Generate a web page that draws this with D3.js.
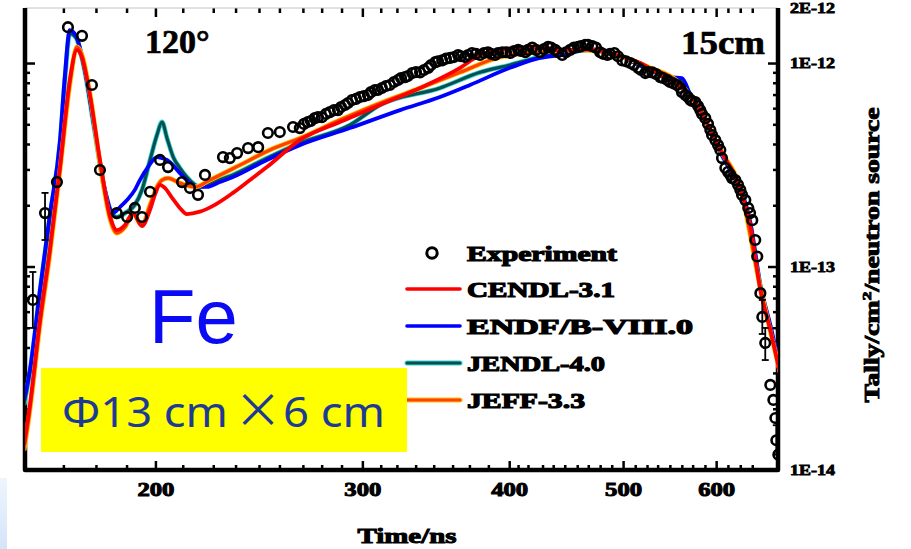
<!DOCTYPE html>
<html>
<head>
<meta charset="utf-8">
<script src="https://cdn.jsdelivr.net/npm/d3@7"></script>
<style>
  body { margin: 0; background: #fff; }
  svg { display: block; }
</style>
</head>
<body>
<svg id="chart" width="911" height="549"></svg>
<script>
// ---- measured time-of-flight spectrum (ns, tally per cm^2 per source neutron) ----
const expTime = [157.3, 161.1, 164.9, 168.5, 173.2, 176.6, 179.4, 185.4, 189.2, 192.1,
  194.8, 197.9, 201.8, 205.0, 210.7, 214.0, 217.4, 220.4, 228.3, 231.4,
  234.7, 239.8, 244.6, 249.3, 255.2, 261.9, 265.4, 269.6, 273.3, 277.1,
  281.5, 286.0, 290.0, 294.0, 298.6, 303.3, 307.5, 311.7, 316.6, 321.7,
  326.2, 330.8, 335.9, 341.3, 346.1, 350.8, 356.3, 361.9, 366.9, 371.9,
  377.8, 383.7, 389.1, 394.6, 401.0, 407.1, 412.8, 418.5, 425.0, 431.7,
  437.7, 443.8, 450.8, 457.9, 464.3, 470.7, 478.1, 484.9, 491.6, 499.2,
  507.1, 515.0, 522.2, 529.4, 537.8, 545.2, 551.6, 559.3, 564.8, 570.4,
  576.0, 581.6, 587.4, 593.2, 599.0, 604.9, 610.9, 616.9, 623.0, 629.1,
  635.3, 639.0, 644.0, 647.8, 650.3, 654.3, 656.8, 660.6, 667.2, 671.2,
  673.8, 675.1, 677.8];
const expTally = [6.85e-14, 1.83e-13, 2.60e-13, 1.50e-12, 1.36e-12, 7.80e-13, 2.98e-13, 1.83e-13, 1.75e-13, 1.94e-13,
  1.75e-13, 2.33e-13, 3.34e-13, 3.08e-13, 2.60e-13, 2.43e-13, 2.25e-13, 2.82e-13, 3.45e-13, 3.41e-13,
  3.61e-13, 3.82e-13, 3.86e-13, 4.53e-13, 4.58e-13, 4.85e-13, 4.79e-13, 5.13e-13, 5.36e-13, 5.42e-13,
  5.74e-13, 5.87e-13, 6.22e-13, 6.58e-13, 6.81e-13, 6.96e-13, 7.37e-13, 7.54e-13, 7.80e-13, 8.25e-13,
  8.53e-13, 8.93e-13, 9.0e-13, 9.47e-13, 1.01e-12, 1.03e-12, 1.06e-12, 1.095e-12, 1.07e-12, 1.12e-12,
  1.095e-12, 1.13e-12, 1.095e-12, 1.13e-12, 1.12e-12, 1.16e-12, 1.13e-12, 1.19e-12, 1.13e-12, 1.20e-12,
  1.16e-12, 1.095e-12, 1.16e-12, 1.20e-12, 1.23e-12, 1.21e-12, 1.13e-12, 1.095e-12, 1.12e-12, 1.03e-12,
  1.00e-12, 9.47e-13, 8.93e-13, 9.0e-13, 8.53e-13, 8.25e-13, 7.95e-13, 7.54e-13, 6.96e-13, 6.58e-13,
  6.43e-13, 5.87e-13, 5.36e-13, 4.69e-13, 4.18e-13, 3.74e-13, 3.05e-13, 2.82e-13, 2.66e-13, 2.38e-13,
  2.12e-13, 1.94e-13, 1.69e-13, 1.35e-13, 1.12e-13, 7.4e-14, 5.65e-14, 4.21e-14, 2.62e-14, 2.21e-14,
  1.80e-14, 1.40e-14, 1.19e-14];

// interleaved bins of the same measurement in the dense late-time region
const expTimeB = [267.6, 271.2, 275.0, 279.3, 283.8, 287.7, 291.7, 296.3, 300.9, 305.1,
  309.3, 314.2, 319.2, 323.6, 328.0, 333.2, 338.5, 343.2, 347.9, 353.4,
  359.0, 363.9, 369.0, 374.8, 380.7, 386.0, 391.3, 397.5, 403.8, 409.3,
  415.0, 421.6, 428.2, 434.1, 440.1, 447.1, 454.1, 460.4, 466.8, 474.1,
  480.7, 487.3, 495.0, 502.9, 510.8, 517.9, 525.0, 533.3, 540.7, 548.1,
  555.7, 561.2, 567.8, 572.3, 579.1, 583.6, 590.5, 595.2, 602.2, 606.9,
  614.1, 618.9, 626.3, 631.2, 641.2];
const expTallyB = [5.02e-13, 5.19e-13, 5.42e-13, 5.62e-13, 5.87e-13, 6.08e-13, 6.36e-13, 6.66e-13, 6.88e-13, 7.19e-13,
  7.37e-13, 7.71e-13, 8.07e-13, 8.44e-13, 8.63e-13, 9.03e-13, 9.24e-13, 9.78e-13, 1.02e-12, 1.05e-12,
  1.07e-12, 1.08e-12, 1.095e-12, 1.11e-12, 1.12e-12, 1.11e-12, 1.12e-12, 1.13e-12, 1.146e-12, 1.146e-12,
  1.16e-12, 1.16e-12, 1.17e-12, 1.19e-12, 1.13e-12, 1.13e-12, 1.19e-12, 1.21e-12, 1.23e-12, 1.19e-12,
  1.11e-12, 1.11e-12, 1.08e-12, 1.02e-12, 9.78e-13, 9.24e-13, 9.03e-13, 8.83e-13, 8.44e-13, 8.07e-13,
  7.80e-13, 7.19e-13, 6.81e-13, 6.51e-13, 6.15e-13, 5.62e-13, 5.02e-13, 4.43e-13, 3.95e-13, 3.41e-13,
  2.92e-13, 2.72e-13, 2.52e-13, 2.25e-13, 1.83e-13];

// error bars on selected measured points
const errTime = [157.3, 161.1, 656.8, 660.6, 675.1, 677.8];
const errLow  = [4.99e-14, 1.35e-13, 4.66e-14, 3.47e-14, 1.19e-14, 1.0e-14];
const errHigh = [9.4e-14, 2.30e-13, 6.85e-14, 4.99e-14, 1.66e-14, 1.33e-14];

// ---- simulated spectra with four evaluated libraries ----
const cendlTime = [154.6, 156.4, 159.5, 162.6, 165.9, 169.1, 171.5, 173.2, 175.9, 179.4,
  182.9, 185.4, 188.4, 191.4, 194.8, 197.9, 199.8, 201.8, 203.8, 206.7,
  209.8, 212.7, 218.2, 224.7, 232.8, 240.7, 248.8, 265.4, 287.1, 310.5,
  335.9, 363.3, 377.8, 393.0, 408.7, 425.0, 442.0, 468.6, 497.2, 517.1,
  537.8, 559.3, 570.4, 581.6, 593.2, 604.9, 616.9, 629.1, 641.5, 654.3,
  667.2, 680.4];
const cendlTally = [1.33e-14, 2.09e-14, 5.46e-14, 1.21e-13, 3.08e-13, 8.25e-13, 1.16e-12, 1.06e-12, 6.96e-13, 3.34e-13,
  1.79e-13, 1.51e-13, 1.60e-13, 1.83e-13, 1.58e-13, 1.90e-13, 2.25e-13, 2.52e-13, 2.43e-13, 2.17e-13,
  1.94e-13, 1.81e-13, 1.86e-13, 2.01e-13, 2.30e-13, 2.66e-13, 3.08e-13, 4.18e-13, 5.13e-13, 6.22e-13,
  7.54e-13, 9.47e-13, 1.095e-12, 1.16e-12, 1.19e-12, 1.19e-12, 1.16e-12, 1.17e-12, 1.08e-12, 1.00e-12,
  8.73e-13, 7.62e-13, 6.96e-13, 5.87e-13, 4.69e-13, 3.74e-13, 3.05e-13, 2.38e-13, 1.60e-13, 7.66e-14,
  4.88e-14, 2.93e-14];

const endfTime = [154.6, 156.4, 159.5, 162.6, 165.9, 167.5, 169.1, 171.2, 174.2, 177.6,
  181.2, 184.0, 186.6, 189.2, 192.1, 194.0, 197.1, 200.6, 202.6, 204.6,
  209.8, 214.0, 217.0, 221.2, 226.9, 232.8, 248.8, 265.4, 292.8, 323.0,
  349.3, 370.4, 400.6, 425.0, 442.0, 468.6, 497.2, 527.3, 548.4, 561.2,
  570.4, 581.6, 593.2, 604.9, 616.9, 629.1, 641.5, 654.3, 667.2, 680.4];
const endfTally = [2.21e-14, 3.10e-14, 7.66e-14, 1.79e-13, 4.18e-13, 8.73e-13, 1.45e-12, 1.36e-12, 9.24e-13, 4.69e-13,
  2.38e-13, 1.83e-13, 1.96e-13, 2.12e-13, 2.38e-13, 2.66e-13, 3.08e-13, 3.45e-13, 3.41e-13, 3.34e-13,
  2.88e-13, 2.57e-13, 2.46e-13, 2.46e-13, 2.60e-13, 2.75e-13, 3.34e-13, 3.95e-13, 4.79e-13, 5.87e-13,
  6.81e-13, 7.80e-13, 9.47e-13, 1.06e-12, 1.095e-12, 1.16e-12, 1.08e-12, 9.24e-13, 8.53e-13, 8.43e-13,
  6.96e-13, 5.74e-13, 4.58e-13, 3.65e-13, 2.98e-13, 2.43e-13, 1.65e-13, 8.11e-14, 5.16e-14, 3.10e-14];

const jendlTime = [154.6, 156.4, 159.5, 162.6, 165.9, 167.5, 169.1, 171.2, 174.2, 177.6,
  181.2, 185.4, 189.2, 192.1, 194.8, 197.9, 200.6, 202.6, 204.6, 207.1,
  209.8, 212.7, 218.2, 222.5, 232.8, 248.8, 265.4, 292.8, 310.5, 349.3,
  377.8, 400.6, 425.0, 442.0, 468.6, 497.2, 527.3, 548.4, 561.2, 570.4,
  581.6, 593.2, 604.9, 616.9, 629.1, 641.5, 654.3, 667.2, 680.4];
const jendlTally = [2.09e-14, 3.03e-14, 7.49e-14, 1.73e-13, 4.04e-13, 8.25e-13, 1.40e-12, 1.33e-12, 9.0e-13, 4.58e-13,
  2.33e-13, 1.75e-13, 1.86e-13, 2.01e-13, 2.38e-13, 3.34e-13, 4.43e-13, 5.13e-13, 4.27e-13, 3.45e-13,
  3.05e-13, 2.75e-13, 2.46e-13, 2.57e-13, 2.82e-13, 3.41e-13, 4.04e-13, 4.96e-13, 6.22e-13, 7.54e-13,
  9.0e-13, 9.78e-13, 1.07e-12, 1.11e-12, 1.16e-12, 1.08e-12, 9.24e-13, 8.43e-13, 8.25e-13, 6.96e-13,
  5.74e-13, 4.58e-13, 3.65e-13, 2.98e-13, 2.38e-13, 1.62e-13, 7.93e-14, 4.99e-14, 3.03e-14];

const jeffTime = [154.6, 156.4, 159.5, 162.6, 165.9, 169.1, 171.5, 173.2, 175.9, 179.4,
  182.9, 185.4, 188.4, 191.4, 194.8, 197.9, 200.6, 202.6, 205.0, 209.8,
  216.1, 222.5, 236.0, 250.3, 265.4, 287.1, 310.5, 335.9, 363.3, 393.0,
  425.0, 459.7, 497.2, 527.3, 559.3, 570.4, 581.6, 604.9, 629.1, 654.3,
  680.4];
const jeffTally = [1.25e-14, 1.97e-14, 5.16e-14, 1.14e-13, 2.98e-13, 7.80e-13, 1.20e-12, 1.095e-12, 7.11e-13, 3.23e-13,
  1.73e-13, 1.46e-13, 1.56e-13, 1.81e-13, 1.60e-13, 2.01e-13, 2.46e-13, 2.66e-13, 2.72e-13, 2.57e-13,
  2.46e-13, 2.66e-13, 3.15e-13, 3.74e-13, 4.27e-13, 5.25e-13, 6.35e-13, 7.54e-13, 9.0e-13, 1.07e-12,
  1.13e-12, 1.16e-12, 1.08e-12, 9.47e-13, 7.89e-13, 6.88e-13, 5.81e-13, 3.74e-13, 2.41e-13, 7.84e-14,
  3.00e-14];

// ---- axis ticks and labels ----
const xMajorTicks = [200, 300, 400, 500, 600];
const xMinorTicks = [167, 178, 189, 211, 224, 234, 245, 255, 267, 277, 288, 311, 321, 333, 345, 358,
  370, 384, 407, 415, 427, 436, 446, 457, 467, 478, 489, 512, 524, 535, 548, 561, 573, 587, 614, 629, 644];
const yMajorTicks = [1e-14, 1e-13, 1e-12, 2e-12];
const yTickLabels = ["1E-14", "1E-13", "1E-12", "2E-12"];

const legendNames = ["Experiment", "CENDL-3.1", "ENDF/B-VIII.0", "JENDL-4.0", "JEFF-3.3"];

// ---- layout ----
const serif = "'Liberation Serif','Times New Roman',serif";
const svg = d3.select("#chart");
const x = d3.scaleLog().domain([154.9, 677.3]).range([25, 778]);
const y = d3.scaleLog().domain([1e-14, 1.864e-12]).range([470, 8]);

svg.append("rect").attr("width", 911).attr("height", 549).attr("fill", "#fff");

// soft blue strip at the lower-left edge
const defs = svg.append("defs");
const grad = defs.append("linearGradient").attr("id", "edgeBlue")
  .attr("x1", 0).attr("y1", 0).attr("x2", 0).attr("y2", 1);
grad.append("stop").attr("offset", "0").attr("stop-color", "#eef5fd");
grad.append("stop").attr("offset", "1").attr("stop-color", "#d4e5f8");
svg.append("rect").attr("x", 0).attr("y", 478).attr("width", 7).attr("height", 71).attr("fill", "url(#edgeBlue)");

defs.append("clipPath").attr("id", "plotClip")
  .append("rect").attr("x", 25).attr("y", 8).attr("width", 753).attr("height", 462);

// ---- axes ----
function styleTicks(g, w) {
  g.select(".domain").remove();
  g.selectAll(".tick line").attr("stroke", "#000").attr("stroke-width", w);
}
const isDecade = v => Math.abs(Math.log10(v) - Math.round(Math.log10(v))) < 1e-6;
const yMinorTicks = y.ticks().filter(v => !isDecade(v));

// bottom
svg.append("g").attr("transform", "translate(0,470)")
  .call(d3.axisBottom(x).tickValues(xMinorTicks).tickSize(-5).tickFormat(""))
  .call(g => styleTicks(g, 2.5));
const gBottom = svg.append("g").attr("transform", "translate(0,470)")
  .call(d3.axisBottom(x).tickValues(xMajorTicks).tickSize(-9).tickPadding(13).tickFormat(d3.format("d")))
  .call(g => styleTicks(g, 2.5));
gBottom.selectAll("text")
  .attr("font-family", serif).attr("font-weight", "bold").attr("font-size", 19)
  .attr("fill", "#000").attr("stroke", "#000").attr("stroke-width", 1)
  .attr("textLength", 37).attr("lengthAdjust", "spacingAndGlyphs");

// top
svg.append("g").attr("transform", "translate(0,8)")
  .call(d3.axisTop(x).tickValues(xMinorTicks).tickSize(-5).tickFormat(""))
  .call(g => styleTicks(g, 2.5));
svg.append("g").attr("transform", "translate(0,8)")
  .call(d3.axisTop(x).tickValues(xMajorTicks).tickSize(-9).tickFormat(""))
  .call(g => styleTicks(g, 2.5));

// left
svg.append("g").attr("transform", "translate(25,0)")
  .call(d3.axisLeft(y).tickValues(yMinorTicks).tickSize(-5).tickFormat(""))
  .call(g => styleTicks(g, 2.5));
svg.append("g").attr("transform", "translate(25,0)")
  .call(d3.axisLeft(y).tickValues(yMajorTicks.filter(v => v <= y.domain()[1])).tickSize(-10).tickFormat(""))
  .call(g => styleTicks(g, 2.5));

// right
svg.append("g").attr("transform", "translate(778,0)")
  .call(d3.axisRight(y).tickValues(yMinorTicks).tickSize(-5).tickFormat(""))
  .call(g => styleTicks(g, 2.5));
const gRight = svg.append("g").attr("transform", "translate(778,0)")
  .call(d3.axisRight(y).tickValues(yMajorTicks).tickSize(-10).tickPadding(12)
    .tickFormat((d, i) => yTickLabels[i]))
  .call(g => styleTicks(g, 2.5));
// the label above the frame sits just inside the top edge
const topTick = gRight.selectAll(".tick").filter(d => d > y.domain()[1]);
topTick.select("line").remove();
topTick.select("text").attr("dy", "0.75em");
gRight.selectAll("text")
  .attr("font-family", serif).attr("font-weight", "bold").attr("font-size", 14)
  .attr("fill", "#000").attr("stroke", "#000").attr("stroke-width", 0.8)
  .attr("textLength", 45).attr("lengthAdjust", "spacingAndGlyphs");

// frame
svg.append("line").attr("x1", 25).attr("x2", 778).attr("y1", 8).attr("y2", 8)
  .attr("stroke", "#c4c4c4").attr("stroke-width", 1);
svg.append("path")
  .attr("d", `M25,8 V470 H778 V8`)
  .attr("fill", "none").attr("stroke", "#000").attr("stroke-width", 4.5).attr("stroke-linejoin", "round");

// ---- simulated curves ----
const line = d3.line().x(d => x(d[0])).y(d => y(d[1])).curve(d3.curveMonotoneX);
const plot = svg.append("g").attr("clip-path", "url(#plotClip)");

const series = [
  { t: jendlTime, v: jendlTally, halo: "#33d6d6", core: "#0a4f4f", w: 3.2 },
  { t: endfTime,  v: endfTally,  halo: null,      core: "#0000ff", w: 3.8 },
  { t: jeffTime,  v: jeffTally,  halo: "#ffc400", core: "#ff4000", w: 3.2 },
  { t: cendlTime, v: cendlTally, halo: null,      core: "#ff0000", w: 3.8 }
];
series.forEach(s => {
  const pts = d3.zip(s.t, s.v);
  if (s.halo) {
    plot.append("path").attr("d", line(pts)).attr("fill", "none")
      .attr("stroke", s.halo).attr("stroke-width", s.w + 1.6).attr("stroke-linejoin", "round");
  }
  plot.append("path").attr("d", line(pts)).attr("fill", "none")
    .attr("stroke", s.core).attr("stroke-width", s.w).attr("stroke-linejoin", "round");
});

// ---- measured points ----
const errG = plot.append("g").attr("stroke", "#000").attr("stroke-width", 1.8);
errTime.forEach((t, i) => {
  const cx = x(t);
  errG.append("line").attr("x1", cx).attr("x2", cx).attr("y1", y(errLow[i])).attr("y2", y(errHigh[i]));
  errG.append("line").attr("x1", cx - 3.5).attr("x2", cx + 3.5).attr("y1", y(errLow[i])).attr("y2", y(errLow[i]));
  errG.append("line").attr("x1", cx - 3.5).attr("x2", cx + 3.5).attr("y1", y(errHigh[i])).attr("y2", y(errHigh[i]));
});
const measured = d3.zip(expTime, expTally).concat(d3.zip(expTimeB, expTallyB));
plot.append("g").selectAll("circle").data(measured).join("circle")
  .attr("cx", d => x(d[0])).attr("cy", d => y(d[1])).attr("r", 4.8)
  .attr("fill", "none").attr("stroke", "#000").attr("stroke-width", 2.6);

// ---- annotations ----
svg.append("text").attr("x", 145).attr("y", 53).text("120°")
  .attr("font-family", serif).attr("font-weight", "bold").attr("font-size", 34)
  .attr("fill", "#000").attr("stroke", "#000").attr("stroke-width", 0.7);
svg.append("text").attr("x", 681).attr("y", 54).text("15cm")
  .attr("font-family", serif).attr("font-weight", "bold").attr("font-size", 34)
  .attr("fill", "#000").attr("stroke", "#000").attr("stroke-width", 0.7)
  .attr("textLength", 84).attr("lengthAdjust", "spacingAndGlyphs");

// ---- legend ----
const legend = svg.append("g");
const legendRowY = [253, 289, 326, 363, 400];
const legendWidths = [150, 148, 226, 138, 118];
legendNames.forEach((name, i) => {
  const ly = legendRowY[i];
  if (i === 0) {
    legend.append("circle").attr("cx", 432).attr("cy", ly).attr("r", 5.2)
      .attr("fill", "none").attr("stroke", "#000").attr("stroke-width", 3);
  } else {
    const s = series[[3, 1, 0, 2][i - 1]];
    if (s.halo) {
      legend.append("line").attr("x1", 407).attr("x2", 460).attr("y1", ly).attr("y2", ly)
        .attr("stroke", s.halo).attr("stroke-width", 5).attr("stroke-linecap", "round");
    }
    legend.append("line").attr("x1", 407).attr("x2", 460).attr("y1", ly).attr("y2", ly)
      .attr("stroke", s.core).attr("stroke-width", s.halo ? 3 : 3.6).attr("stroke-linecap", "round");
  }
  legend.append("text").attr("x", 467).attr("y", ly + 8).text(name)
    .attr("font-family", serif).attr("font-weight", "bold").attr("font-size", 22)
    .attr("fill", "#000").attr("stroke", "#000").attr("stroke-width", 1.2)
    .attr("textLength", legendWidths[i]).attr("lengthAdjust", "spacingAndGlyphs");
});

// ---- axis titles ----
svg.append("text").attr("x", 407).attr("y", 543).attr("text-anchor", "middle").text("Time/ns")
  .attr("font-family", serif).attr("font-weight", "bold").attr("font-size", 21)
  .attr("fill", "#000").attr("stroke", "#000").attr("stroke-width", 1)
  .attr("textLength", 99).attr("lengthAdjust", "spacingAndGlyphs");

const yTitle = svg.append("text").attr("transform", "translate(879,255) rotate(-90)")
  .attr("text-anchor", "middle")
  .attr("font-family", serif).attr("font-weight", "bold").attr("font-size", 20)
  .attr("fill", "#000").attr("stroke", "#000").attr("stroke-width", 0.9)
  .attr("textLength", 295).attr("lengthAdjust", "spacingAndGlyphs");
yTitle.append("tspan").text("Tally/cm");
yTitle.append("tspan").attr("dy", -8).attr("font-size", 13).text("2");
yTitle.append("tspan").attr("dy", 8).text("/neutron source");

// ---- sample description ----
svg.append("text").attr("x", 149).attr("y", 343).text("Fe")
  .attr("font-family", "'Liberation Sans',Arial,sans-serif").attr("font-size", 76)
  .attr("fill", "#0a0af5");

svg.append("rect").attr("x", 41).attr("y", 368).attr("width", 366).attr("height", 84).attr("fill", "#ffff00");
const sizeStyle = sel => sel.attr("font-family", "'Noto Sans','Liberation Sans',sans-serif")
  .attr("font-size", 42).attr("fill", "#1d3b94");
svg.append("text").attr("x", 62).attr("y", 427).text("Φ13 cm").call(sizeStyle)
  .attr("textLength", 166).attr("lengthAdjust", "spacingAndGlyphs");
svg.append("text").attr("x", 258).attr("y", 427).attr("text-anchor", "middle").text("×")
  .attr("font-family", "'Noto Sans CJK SC',sans-serif").attr("font-size", 48).attr("fill", "#1d3b94");
svg.append("text").attr("x", 283).attr("y", 427).text("6 cm").call(sizeStyle)
  .attr("textLength", 102).attr("lengthAdjust", "spacingAndGlyphs");
</script>
</body>
</html>
